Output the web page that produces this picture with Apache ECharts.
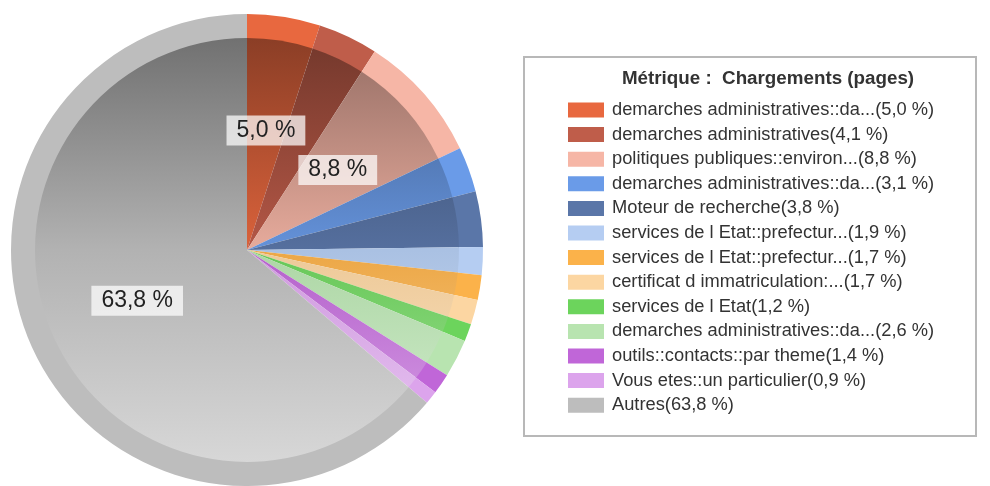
<!DOCTYPE html>
<html>
<head>
<meta charset="utf-8">
<script src="https://cdn.jsdelivr.net/npm/echarts@6/dist/echarts.min.js"></script>
<style>
  html, body { margin: 0; padding: 0; background: #fff; }
  #chart { width: 990px; height: 486px; }
</style>
</head>
<body>
<div id="chart"></div>
<script>
// categories and values (in %)
const labels = [
  "demarches administratives::da...",
  "demarches administratives",
  "politiques publiques::environ...",
  "demarches administratives::da...",
  "Moteur de recherche",
  "services de l Etat::prefectur...",
  "services de l Etat::prefectur...",
  "certificat d immatriculation:...",
  "services de l Etat",
  "demarches administratives::da...",
  "outils::contacts::par theme",
  "Vous etes::un particulier",
  "Autres"
];
const values = [5.0, 4.1, 8.8, 3.1, 3.8, 1.9, 1.7, 1.7, 1.2, 2.6, 1.4, 0.9, 63.8];
const colors = [
  "#E8683F", "#BF5D4A", "#F6B6A6", "#6A9BE8", "#5A76A8", "#B5CDF2", "#FBB24A",
  "#FCD6A2", "#6CD45C", "#B8E4B0", "#C066D8", "#DCA4EC", "#BDBDBD"
];
// slices that carry a value label on the pie
const shownLabels = [0, 2, 12];

const fmt = v => v.toFixed(1).replace('.', ',');

function mix(hex, target, t) {
  const n = parseInt(hex.slice(1), 16);
  const r = (n >> 16) & 255, g = (n >> 8) & 255, b = n & 255;
  const m = c => Math.round(c + (target - c) * t);
  return 'rgb(' + m(r) + ',' + m(g) + ',' + m(b) + ')';
}

const names = labels.map((l, i) => l + '(' + fmt(values[i]) + ' %)');

const ringData = values.map((v, i) => ({
  name: names[i], value: v, itemStyle: { color: colors[i] }
}));
const innerData = values.map((v, i) => ({
  name: names[i], value: v,
  itemStyle: {
    color: {
      type: 'linear', x: 0, y: 38, x2: 0, y2: 462, global: true,
      colorStops: [
        { offset: 0, color: mix(colors[i], 0, 0.4) },
        { offset: 0.5, color: mix(colors[i], 0, 0.06) },
        { offset: 1, color: mix(colors[i], 255, 0.4) }
      ]
    }
  }
}));
const labelData = values.map((v, i) => ({
  name: names[i], value: v,
  label: { show: shownLabels.indexOf(i) >= 0 }
}));

const chart = echarts.init(document.getElementById('chart'));
chart.setOption({
  animation: false,
  title: {
    text: 'Métrique :  Chargements (pages)',
    left: 768, top: 69, textAlign: 'center', padding: 0,
    textStyle: { fontFamily: 'Liberation Sans', fontSize: 18.8, fontWeight: 'bold', color: '#333' }
  },
  graphic: [{
    type: 'rect', z: -1,
    shape: { x: 524, y: 57, width: 452, height: 379 },
    style: { fill: '#fff', stroke: '#b8b8b8', lineWidth: 2 }
  }],
  legend: {
    orient: 'vertical', left: 568, top: 101, padding: 0,
    itemWidth: 36, itemHeight: 15, itemGap: 6.6,
    icon: 'rect', selectedMode: false,
    data: names,
    textStyle: { fontFamily: 'Liberation Sans', fontSize: 18.3, color: '#333', padding: [0, 0, 0, 3] }
  },
  series: [
    {
      type: 'pie', center: [247, 250], radius: [211, 236],
      startAngle: 90, clockwise: true, silent: true,
      label: { show: false }, labelLine: { show: false },
      data: ringData
    },
    {
      type: 'pie', center: [247, 250], radius: [0, 212],
      startAngle: 90, clockwise: true, silent: true,
      label: { show: false }, labelLine: { show: false },
      data: innerData
    },
    {
      type: 'pie', center: [247, 250], radius: [0, 236],
      startAngle: 90, clockwise: true, silent: true,
      itemStyle: { color: 'rgba(0,0,0,0)' },
      labelLine: { show: false },
      label: {
        position: 'inside',
        formatter: p => fmt(p.value) + ' %',
        fontFamily: 'Liberation Sans', fontSize: 23, color: '#222',
        backgroundColor: 'rgba(255,255,255,0.72)',
        padding: [4, 10, 3, 10]
      },
      data: labelData
    }
  ]
});
</script>
</body>
</html>
